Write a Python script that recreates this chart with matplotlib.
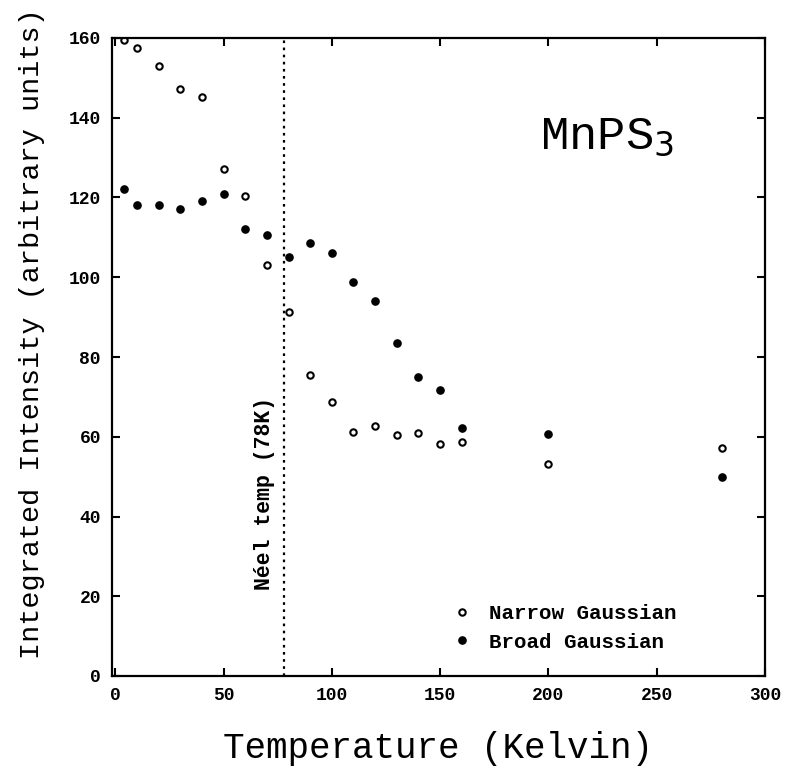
import matplotlib
matplotlib.use("Agg")
import matplotlib.pyplot as plt

# Data
temp_narrow = [4, 10, 20, 30, 40, 50, 60, 70, 80, 90, 100, 110, 120, 130, 140, 150, 160, 200, 280]
narrow = [159.5, 157.4, 153.0, 147.1, 145.3, 127.2, 120.5, 103.0, 91.2, 75.6, 68.8, 61.2, 62.7, 60.4, 61.0, 58.3, 58.6, 53.1, 57.3]
temp_broad = [4, 10, 20, 30, 40, 50, 60, 70, 80, 90, 100, 110, 120, 130, 140, 150, 160, 200, 280]
broad = [122.1, 118.0, 118.0, 117.2, 119.1, 120.8, 112.2, 110.5, 105.0, 108.5, 106.0, 98.8, 94.0, 83.6, 75.1, 71.7, 62.1, 60.6, 49.9]
neel_temp = 78
xticks = [0, 50, 100, 150, 200, 250, 300]
yticks = [0, 20, 40, 60, 80, 100, 120, 140, 160]

mono = "Liberation Mono"

fig = plt.figure(figsize=(8.03, 7.79), dpi=100)
ax = fig.add_axes([112/803, 1-676/779, (765-112)/803, (676-38)/779])

ax.plot(temp_narrow, narrow, linestyle="none", marker="o", markersize=4.6,
        markerfacecolor="white", markeredgecolor="black", markeredgewidth=1.5,
        label="Narrow Gaussian")
ax.plot(temp_broad, broad, linestyle="none", marker="o", markersize=5.2,
        markerfacecolor="black", markeredgecolor="black",
        label="Broad Gaussian")

ax.axvline(neel_temp, color="black", linestyle=(0, (1.2, 2)), linewidth=1.6)
ax.text(neel_temp - 9, 21.5, "Néel temp (78K)", rotation=90, ha="center", va="bottom",
        family=mono, fontweight="bold", fontsize=15.5)

ax.text(0.758, 0.845, "MnPS$_3$", transform=ax.transAxes, ha="center", va="center",
        family=mono, fontsize=34)

ax.set_xlim(-1.5, 300)
ax.set_ylim(0, 160)
ax.set_xticks(xticks)
ax.set_yticks(yticks)
ax.tick_params(direction="in", length=6, width=1.5, top=True, right=True,
               labelsize=13, pad=8)
for lab in ax.get_xticklabels() + ax.get_yticklabels():
    lab.set_family(mono)
    lab.set_fontweight("bold")
for s in ax.spines.values():
    s.set_linewidth(1.6)

ax.set_xlabel("Temperature (Kelvin)", family=mono, fontsize=25.8, labelpad=19)
ax.set_ylabel("Integrated Intensity (arbitrary units)", family=mono, fontsize=20.5)
ax.yaxis.set_label_coords(-0.102, 0.536)

leg = ax.legend(loc="upper left", bbox_to_anchor=(0.495, 0.142), frameon=False,
                handlelength=0.8, handletextpad=0.9, labelspacing=0.45, numpoints=1,
                prop={"family": mono, "weight": "bold", "size": 15})

fig.savefig("out.png", dpi=100, facecolor="white")
